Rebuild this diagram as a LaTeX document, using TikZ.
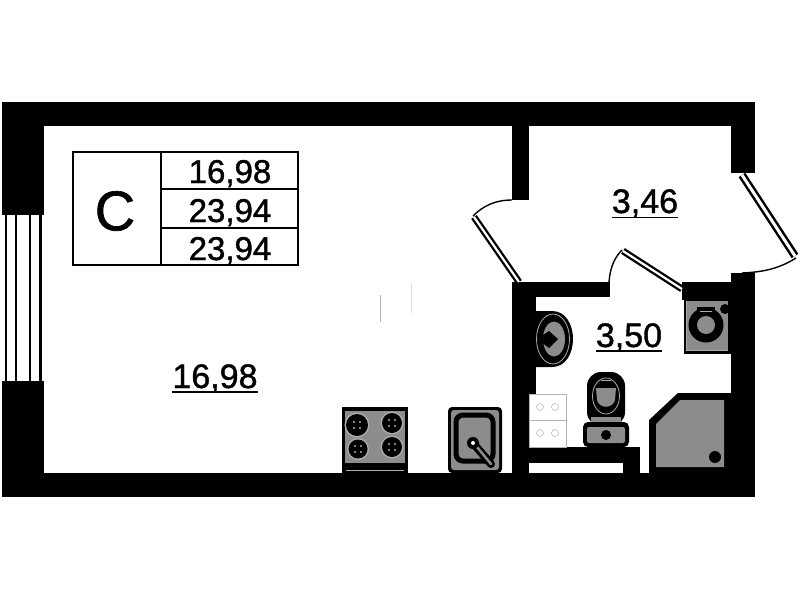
\documentclass[tikz,border=0pt]{standalone}
\usepackage{fontspec}
\setmainfont[FakeBold=1.2]{Liberation Sans}
\definecolor{fixture}{gray}{0.55}
\definecolor{halo}{gray}{0.68}
\tikzset{
  wall/.style={fill=black,draw=none},
  area/.style={inner sep=0pt,font=\fontsize{34}{34}\selectfont,anchor=base},
  total/.style={inner sep=0pt,font=\fontsize{33}{33}\selectfont,anchor=base},
  tableline/.style={draw=black,line width=2pt},
  glass/.style={double=white,double distance=2.2pt,draw=black,line width=2.3pt},
  swing/.style={draw=black,line width=1.4pt},
  grayfill/.style={fill=fixture,draw=none},
  tile/.style={draw=gray!60,line width=.5pt}
}
\begin{document}
\begin{tikzpicture}[x=1pt,y=-1pt]

\useasboundingbox (0,0) rectangle (801,600);

\fill[wall] (2,102) rectangle (755,126);
\fill[wall] (2,473) rectangle (755,497);
\fill[wall] (2,102) rectangle (44,215);
\fill[wall] (2,381) rectangle (44,497);
\fill[wall] (731,102) rectangle (755,173);
\fill[wall] (731,273) rectangle (755,497);
\fill[wall] (512,126) rectangle (529,200);
\fill[wall] (512,282) rectangle (610,297);
\fill[wall] (682,282) rectangle (755,300);
\fill[wall] (512,282) rectangle (536,394);
\fill[wall] (512,394) rectangle (529,497);
\fill[wall] (529,447) rectangle (640,463);
\fill[wall] (623,463) rectangle (640,473);

\foreach \winx/\winw in {6/2,16/2,30/2,40.5/3}
  \draw[line width=\winw pt] (\winx,215) -- (\winx,381);

\draw[glass,double distance=3pt,line width=2.5pt] (742,175) -- (795,256);
\draw[glass] (474,217) -- (519,282);
\draw[glass] (623,251) -- (682,289);

\draw[swing] (796,258) .. controls (780,268) and (765,272) .. (742,273);
\draw[swing] (473,216) .. controls (483,206) and (495,200) .. (512,200);
\draw[swing] (622,250) .. controls (613,259) and (610,270) .. (609,282);

\node[total] (totalA) at (230,183) {16,98};
\node[total] (totalB) at (230,222) {23,94};
\node[total] (totalC) at (230,260) {23,94};
\node[inner sep=0pt,font=\fontsize{56}{56}\selectfont] (typeC) at (115,211) {C};

\draw[tableline] (73,152) rectangle (297.5,265);
\draw[tableline] (160.5,152) -- (160.5,265);
\draw[tableline] (160.5,189) -- (297.5,189);
\draw[tableline] (160.5,228) -- (297.5,228);

\node[area] (roomArea) at (215,388) {16,98};
\node[area] (hallArea) at (645,213) {3,46};
\node[area] (bathArea) at (629,347) {3,50};
\draw[line width=1.2pt] (172,392) -- (258,392);
\draw[line width=1.2pt] (612,217.5) -- (678,217.5);
\draw[line width=1.2pt] (596,351) -- (662,351);

\draw[gray!60,line width=.7pt] (380,295) -- (380,322);
\draw[gray!25,line width=.7pt] (411,283) -- (411,313);

\fill[wall] (342,407) rectangle (408,473);
\fill[grayfill] (345,411) rectangle (405,463);
\fill[halo] (346,470) rectangle (404,471);
\foreach \burnx/\burny/\burnr in {357/425/11,392/423/10,358/449/9.5,392/447/10}{
  \fill[halo] (\burnx,\burny) circle (\burnr+1.5);
  \fill[black] (\burnx,\burny) circle (\burnr);
  \foreach \dotx/\doty in {-3/-3,3/-3,-3/3,3/3}
    \fill[halo] (\burnx+\dotx,\burny+\doty) circle (1.2);
}

\fill[wall,rounded corners=4pt] (448,407) rectangle (502,473);
\fill[grayfill,rounded corners=3pt] (451,410) rectangle (499,470);
\draw[line width=5pt,rounded corners=7pt] (456,415) rectangle (493,461);
\draw[line cap=round,line width=8pt] (473,443) -- (491,464);
\draw[fixture,line cap=round,line width=2.5pt] (477,447) -- (491,464);
\fill[black] (473,443) circle (6);
\fill[white] (473,443) circle (2);

\fill[wall] (536,311) -- (552,311) .. controls (566,311) and (573,325) .. (573,339) .. controls (573,353) and (566,367) .. (552,367) -- (536,367) -- cycle;
\draw[halo,line width=.8pt] (553,339) ellipse (16.5 and 25);
\fill[fixture] (554,339) ellipse (11 and 17.5);
\fill[black] (549,331) -- (558,339) -- (549,348) -- (537,339) -- cycle;

\fill[wall,rounded corners=5pt] (583,422) rectangle (629,447);
\fill[grayfill,rounded corners=2pt] (587,427) rectangle (625,443);
\fill[black] (606,435) circle (5);
\fill[black,rounded corners=14pt] (587,426) -- (587,372) -- (625,372) -- (625,426) -- cycle;
\fill[grayfill] (591,417) rectangle (621,422);
\draw[halo,line width=.8pt] (606,396) ellipse (13.5 and 18);
\fill[grayfill] (596,388) -- (616,388) -- (615,400) .. controls (613,409) and (599,409) .. (597,400) -- cycle;
\draw[halo,line width=.6pt] (601,380) -- (611,380);

\draw[tile,fill=white] (529,394) rectangle (566,420);
\draw[tile,fill=white] (529,420) rectangle (566,447);
\foreach \tilex/\tiley in {540/407,555/407,540/433,555/433}
  \draw[tile] (\tilex,\tiley) circle (3.5);

\fill[wall] (649,420) -- (678,393) -- (731,393) -- (731,473) -- (649,473) -- cycle;
\fill[grayfill] (656,424) -- (680,400) -- (724,400) -- (724,467) -- (656,467) -- cycle;
\fill[black] (715,457) circle (6);

\fill[wall] (684,297) rectangle (731,354);
\fill[grayfill] (687,301) rectangle (728,350);
\draw[halo,line width=.8pt] (686.5,301) -- (686.5,350.5) -- (728,350.5);
\fill[black] (706,325) circle (17.5);
\fill[fixture] (706,325) circle (9);
\fill[black] (697,307) rectangle (715,315);
\fill[halo] (700,310.5) rectangle (712,311.5);
\fill[black] (725,309) circle (5);

\end{tikzpicture}
\end{document}
